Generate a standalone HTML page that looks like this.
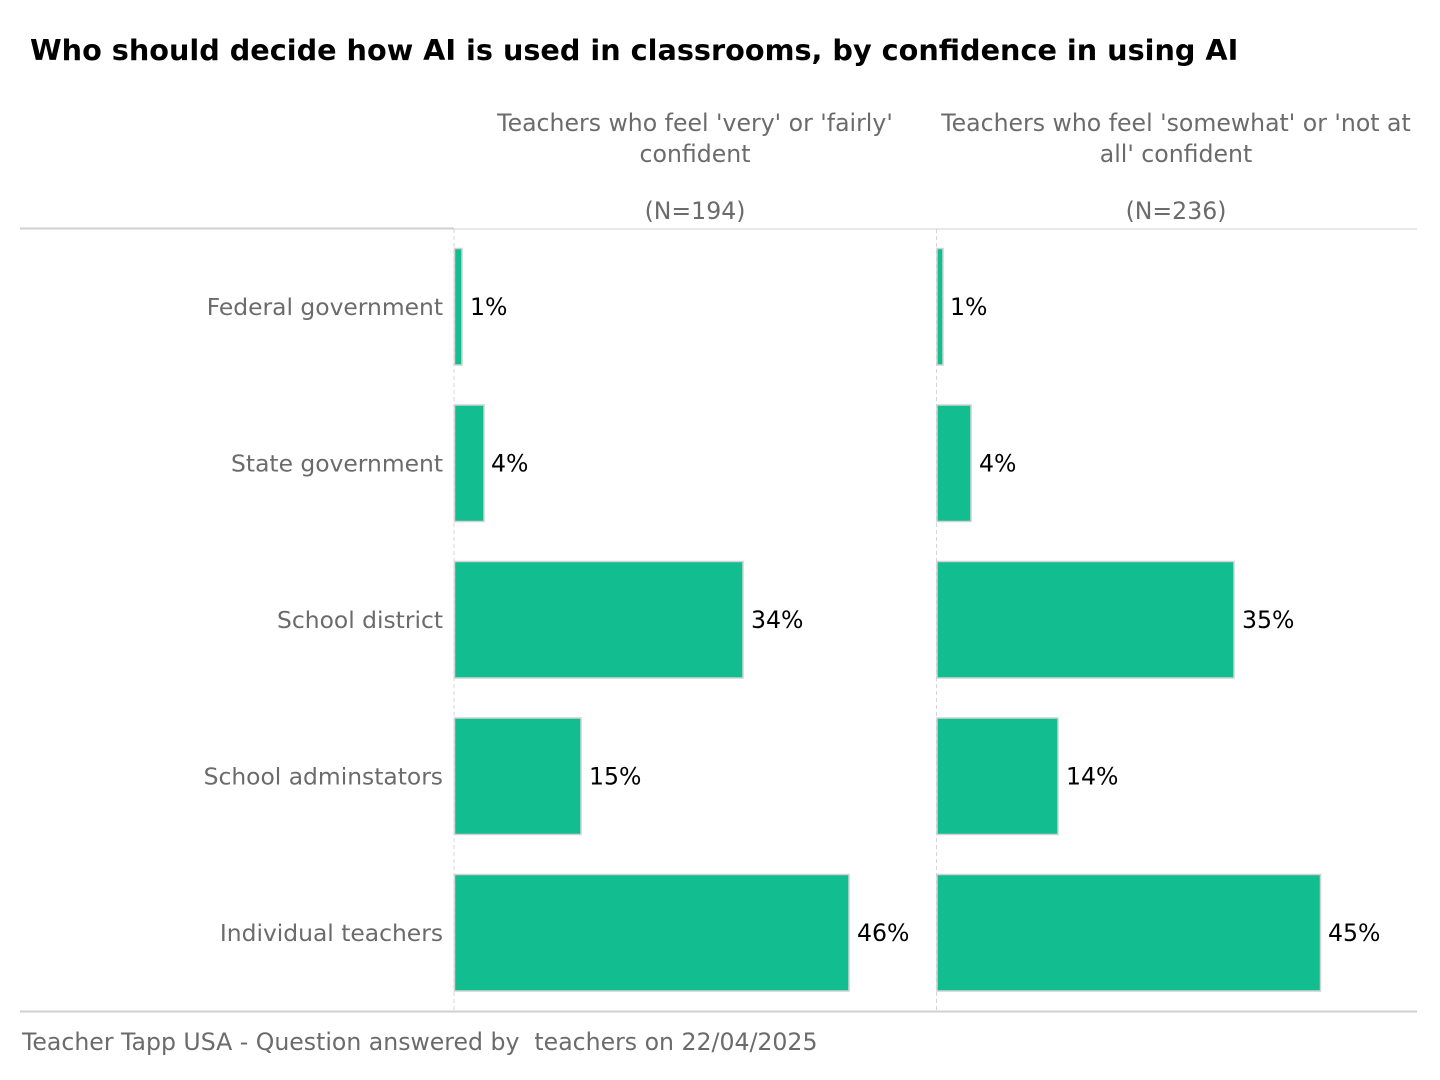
<!DOCTYPE html>
<html>
<head>
<meta charset="utf-8">
<style>
  html, body { margin: 0; padding: 0; background: #ffffff; }
  body { width: 1440px; height: 1080px; overflow: hidden; }
  svg { display: block; }
  text { font-family: "DejaVu Sans", "Liberation Sans", sans-serif; }
</style>
</head>
<body>
<svg width="1440" height="1080" viewBox="0 0 1440 1080" xmlns="http://www.w3.org/2000/svg">
  <rect x="0" y="0" width="1440" height="1080" fill="#ffffff"/>

  <!-- Title -->
  <text x="30" y="60" font-size="28.7" font-weight="bold" fill="#000000">Who should decide how AI is used in classrooms, by confidence in using AI</text>

  <!-- Panel headers -->
  <g font-size="23.6" fill="#6b6b6b" text-anchor="middle">
    <text x="695" y="131">Teachers who feel 'very' or 'fairly'</text>
    <text x="695" y="162">confident</text>
    <text x="695" y="219">(N=194)</text>
    <text x="1176" y="131">Teachers who feel 'somewhat' or 'not at</text>
    <text x="1176" y="162">all' confident</text>
    <text x="1176" y="219">(N=236)</text>
  </g>

  <!-- Horizontal rules -->
  <line x1="20" y1="228.5" x2="454" y2="228.5" stroke="#cfcfcf" stroke-width="2"/>
  <line x1="454" y1="229" x2="1417" y2="229" stroke="#e0e0e0" stroke-width="1.5"/>
  <line x1="20" y1="1011.5" x2="1417" y2="1011.5" stroke="#cfcfcf" stroke-width="2"/>

  <!-- Dashed axis lines -->
  <line x1="454" y1="229" x2="454" y2="1011" stroke="#d4d4d4" stroke-width="1" stroke-dasharray="4,3"/>
  <line x1="936.5" y1="229" x2="936.5" y2="1011" stroke="#d4d4d4" stroke-width="1" stroke-dasharray="4,3"/>

  <!-- Category labels -->
  <g font-size="23.4" fill="#6b6b6b" text-anchor="end">
    <text x="443" y="315">Federal government</text>
    <text x="443" y="471.5">State government</text>
    <text x="443" y="628">School district</text>
    <text x="443" y="784.5">School adminstators</text>
    <text x="443" y="941">Individual teachers</text>
  </g>

  <!-- Bars: left panel -->
  <g fill="#12bd8f" stroke="#d2d2d2" stroke-width="1.5">
    <rect x="454.5" y="248.5" width="7.5" height="116.5"/>
    <rect x="454.5" y="405" width="29.5" height="116.5"/>
    <rect x="454.5" y="561.5" width="288.5" height="116.5"/>
    <rect x="454.5" y="718" width="126.5" height="116.5"/>
    <rect x="454.5" y="874.5" width="394.5" height="116.5"/>
  </g>

  <!-- Bars: right panel -->
  <g fill="#12bd8f" stroke="#d2d2d2" stroke-width="1.5">
    <rect x="937" y="248.5" width="6" height="116.5"/>
    <rect x="937" y="405" width="34" height="116.5"/>
    <rect x="937" y="561.5" width="297" height="116.5"/>
    <rect x="937" y="718" width="121" height="116.5"/>
    <rect x="937" y="874.5" width="383.5" height="116.5"/>
  </g>

  <!-- Value labels -->
  <g font-size="23.6" fill="#000000">
    <text x="470" y="315">1%</text>
    <text x="491" y="471.5">4%</text>
    <text x="751" y="628">34%</text>
    <text x="589" y="784.5">15%</text>
    <text x="857" y="941">46%</text>

    <text x="950" y="315">1%</text>
    <text x="979" y="471.5">4%</text>
    <text x="1242" y="628">35%</text>
    <text x="1066" y="784.5">14%</text>
    <text x="1328" y="941">45%</text>
  </g>

  <!-- Footer -->
  <text x="22" y="1050" font-size="23.6" fill="#6b6b6b" style="white-space:pre" xml:space="preserve">Teacher Tapp USA - Question answered by  teachers on 22/04/2025</text>
</svg>
</body>
</html>
